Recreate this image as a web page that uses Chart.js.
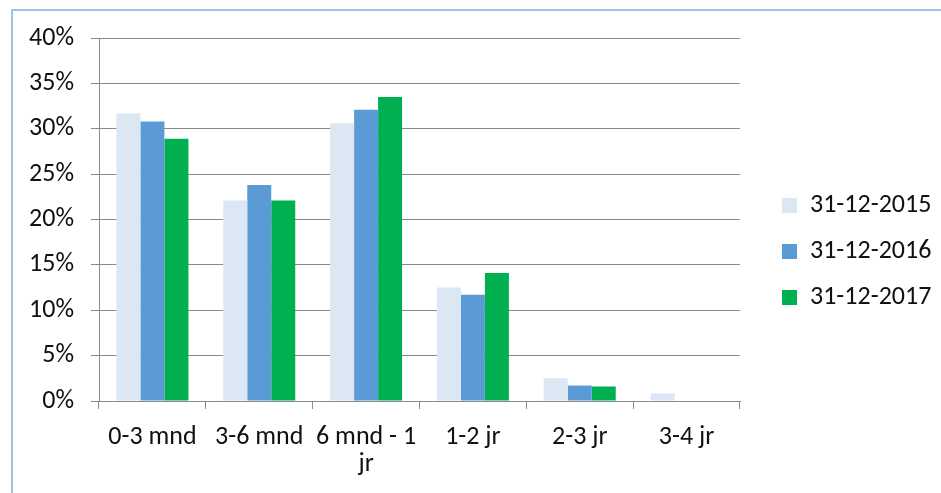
<!DOCTYPE html>
<html>
<head>
<meta charset="utf-8">
<script src="https://cdn.jsdelivr.net/npm/chart.js@4"></script>
<style>
  html, body { margin: 0; padding: 0; background: #fff; }
  #kader { position: absolute; left: 11px; top: 9px; width: 940px; height: 500px;
           border-left: 2px solid #9dc3e6; border-top: 2px solid #9dc3e6; }
  #wrap { position: absolute; left: 0; top: 0; width: 941px; height: 493px; }
</style>
</head>
<body>
<div id="kader"></div>
<div id="wrap"><canvas id="grafiek"></canvas></div>
<script>
// categorieen en waarden (in %)
const categorieen = ['0-3 mnd', '3-6 mnd', ['6 mnd - 1', 'jr'], '1-2 jr', '2-3 jr', '3-4 jr'];
const reeksNamen = ['31-12-2015', '31-12-2016', '31-12-2017'];
const waarden2015 = [31.7, 22.1, 30.6, 12.5, 2.5, 0.85];
const waarden2016 = [30.8, 23.8, 32.1, 11.7, 1.7, 0];
const waarden2017 = [28.9, 22.1, 33.5, 14.1, 1.6, 0];
const yTicks = [0, 5, 10, 15, 20, 25, 30, 35, 40];

const kleuren = ['#dce7f4', '#5b9bd5', '#00b050'];
const lettertype = "Carlito, Lato, sans-serif";
const grijs = '#8a8a8a';

// legenda breedte vastzetten en iets verschuiven
const legendaPlugin = {
    id: 'legendaPositie',
    afterInit(chart) {
        const lg = chart.legend;
        const origFit = lg.fit;
        lg.fit = function () {
            origFit.call(this);
            this.width = 201;
        };
    },
    afterLayout(chart) {
        const lg = chart.legend;
        lg.left += 22; lg.right += 22;
        lg.top -= 14; lg.bottom -= 14;
    }
};

const ctx = document.getElementById('grafiek').getContext('2d');
new Chart(ctx, {
    type: 'bar',
    data: {
        labels: categorieen,
        datasets: [
            { label: reeksNamen[0], data: waarden2015, backgroundColor: kleuren[0] },
            { label: reeksNamen[1], data: waarden2016, backgroundColor: kleuren[1] },
            { label: reeksNamen[2], data: waarden2017, backgroundColor: kleuren[2] }
        ]
    },
    options: {
        responsive: true,
        maintainAspectRatio: false,
        animation: false,
        datasets: { bar: { categoryPercentage: 0.674, barPercentage: 1 } },
        layout: { padding: { top: 38, right: 0, bottom: 0, left: 0 } },
        plugins: {
            tooltip: { enabled: false },
            legend: {
                position: 'right',
                align: 'center',
                labels: {
                    boxWidth: 15, boxHeight: 15, padding: 20,
                    color: '#111',
                    font: { family: lettertype, size: 26 }
                }
            }
        },
        scales: {
            x: {
                afterFit: (s) => { s.height = 92; },
                grid: { drawOnChartArea: false, drawTicks: true, tickLength: 8, color: grijs },
                border: { color: grijs, width: 1 },
                ticks: { color: '#111', padding: 15, maxRotation: 0, autoSkip: false,
                         font: { family: lettertype, size: 26, lineHeight: 1.05 } }
            },
            y: {
                min: 0, max: 40,
                afterFit: (s) => { s.width = 99; },
                afterBuildTicks: (s) => { s.ticks = yTicks.map(v => ({ value: v })); },
                grid: { color: grijs, tickLength: 8 },
                border: { color: grijs, width: 1 },
                ticks: { color: '#111', padding: 17,
                         font: { family: lettertype, size: 26 },
                         callback: (v) => v + '%' }
            }
        }
    },
    plugins: [legendaPlugin]
});
</script>
</body>
</html>
